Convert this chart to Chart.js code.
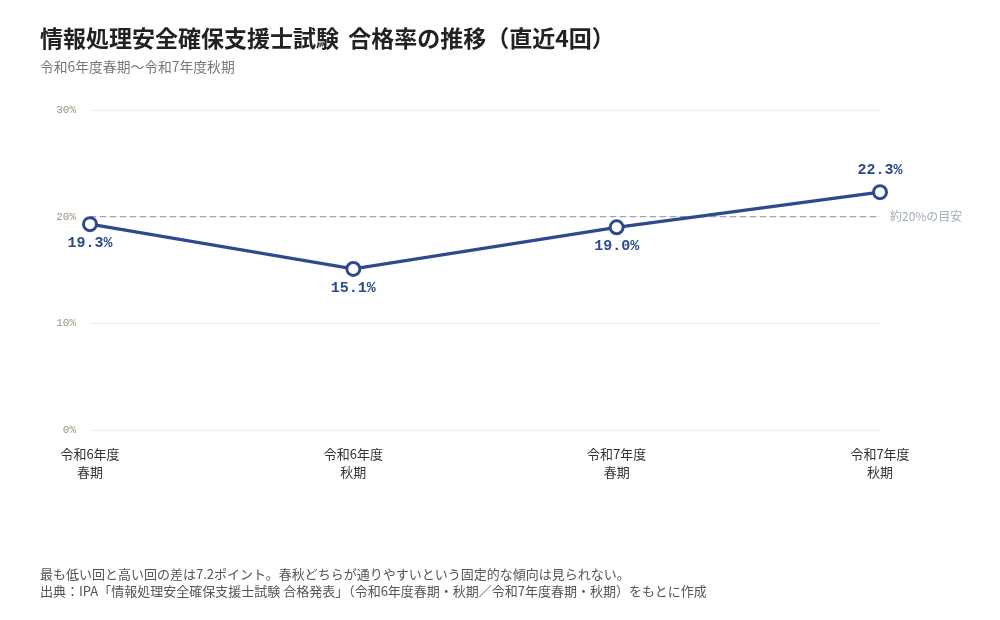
<!DOCTYPE html>
<html>
<head>
<meta charset="utf-8">
<script src="https://cdn.jsdelivr.net/npm/chart.js@4/dist/chart.umd.min.js"></script>
<style>
  body { margin: 0; background: #fff; font-family: "Noto Sans CJK JP", "Noto Sans", sans-serif; }
  #wrap { position: relative; width: 1000px; height: 620px; overflow: hidden; }
  #chartBox { position: absolute; left: 0; top: 0; width: 1000px; height: 620px; }
  .title { position: absolute; left: 40px; top: 20px; font-size: 23px; font-weight: bold; color: #222; word-spacing: 4px; }
  .sub { position: absolute; left: 40px; top: 56px; font-size: 13.8px; color: #777; }
  .note { position: absolute; left: 40px; font-size: 13px; color: #555; }
</style>
</head>
<body>
<div id="wrap">
  <div id="chartBox"><canvas id="rateChart"></canvas></div>
  <div class="title">情報処理安全確保支援士試験 合格率の推移（直近4回）</div>
  <div class="sub">令和6年度春期～令和7年度秋期</div>
  <div class="note" style="top:564px">最も低い回と高い回の差は7.2ポイント。春秋どちらが通りやすいという固定的な傾向は見られない。</div>
  <div class="note" style="top:581px">出典：IPA「情報処理安全確保支援士試験 合格発表」（令和6年度春期・秋期／令和7年度春期・秋期）をもとに作成</div>
</div>
<script>
// data
var sessions = [["令和6年度", "春期"], ["令和6年度", "秋期"], ["令和7年度", "春期"], ["令和7年度", "秋期"]];
var passRates = [19.3, 15.1, 19.0, 22.3];
var targetRate = [20, 20, 20, 20];
var targetLabel = "約20%の目安";
var labelBelow = [true, true, true, false];

var lineColor = "#2c4a8c";

var valueLabels = {
    id: "valueLabels",
    afterDatasetsDraw: function(chart) {
        var ctx = chart.ctx;
        var meta = chart.getDatasetMeta(0);
        ctx.save();
        ctx.fillStyle = lineColor;
        ctx.font = "bold 15px 'Liberation Mono', monospace";
        ctx.textAlign = "center";
        ctx.textBaseline = "middle";
        meta.data.forEach(function(pt, i) {
            var dy = labelBelow[i] ? 19 : -22;
            ctx.fillText(passRates[i].toFixed(1) + "%", pt.x, pt.y + dy);
        });
        // target line label
        var y = chart.scales.y.getPixelForValue(targetRate[0]);
        ctx.fillStyle = "#a3acb9";
        ctx.font = "12px 'Noto Sans CJK JP', sans-serif";
        ctx.textAlign = "left";
        ctx.fillText(targetLabel, chart.chartArea.right + 10, y);
        ctx.restore();
    }
};

var rateChart = new Chart(document.getElementById("rateChart"), {
    type: "line",
    data: {
        labels: sessions,
        datasets: [
            {
                label: "合格率",
                data: passRates,
                borderColor: lineColor,
                borderWidth: 3.2,
                pointRadius: 6.5,
                pointBorderWidth: 3,
                pointBackgroundColor: "#fff",
                pointBorderColor: lineColor,
                tension: 0,
                order: 0
            },
            {
                label: targetLabel,
                data: targetRate,
                borderColor: "#9aa5b8",
                borderWidth: 1.3,
                borderDash: [6, 4],
                pointRadius: 0,
                order: 1
            }
        ]
    },
    options: {
        responsive: true,
        maintainAspectRatio: false,
        animation: false,
        layout: { padding: { left: 50, right: 120, top: 110, bottom: 130 } },
        plugins: {
            legend: { display: false },
            tooltip: { enabled: false }
        },
        scales: {
            x: {
                offset: false,
                grid: { display: false, drawTicks: false },
                border: { display: false },
                afterFit: function(axis) { axis.height = 60; },
                ticks: {
                    padding: 15,
                    color: "#333",
                    maxRotation: 0,
                    font: { size: 13, family: "'Noto Sans CJK JP', sans-serif", lineHeight: 1.4 }
                }
            },
            y: {
                min: 0,
                max: 30,
                grid: { color: "#ececf0", drawTicks: false },
                border: { display: false },
                afterFit: function(axis) { axis.width = 40; },
                ticks: {
                    stepSize: 10,
                    padding: 14,
                    color: "#a09080",
                    font: { size: 11, family: "'Liberation Mono', monospace" },
                    callback: function(v) { return v + "%"; }
                }
            }
        }
    },
    plugins: [valueLabels]
});
</script>
</body>
</html>
